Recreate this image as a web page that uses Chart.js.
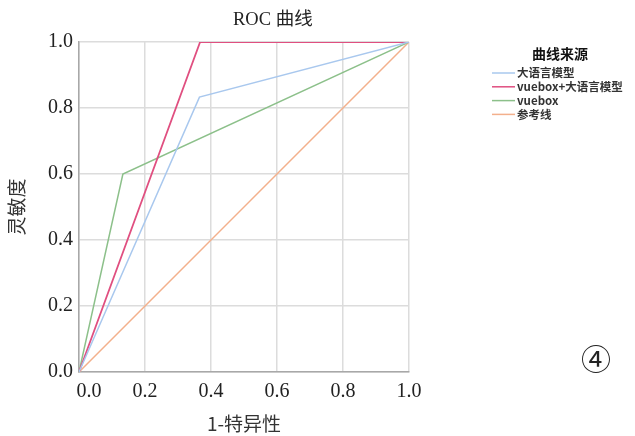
<!DOCTYPE html>
<html>
<head>
<meta charset="utf-8">
<script src="https://cdn.jsdelivr.net/npm/chart.js@4/dist/chart.umd.min.js"></script>
<style>
  html, body { margin: 0; padding: 0; background: #fff; }
  #wrap { position: relative; width: 635px; height: 436px; }
  #mark { position: absolute; left: 581px; top: 335px; font: 30px "Noto Sans CJK SC", serif; color: #222; }
</style>
</head>
<body>
<div id="wrap">
  <canvas id="chart" width="635" height="436"></canvas>
  <div id="mark">④</div>
</div>
<script>
// ROC points
var seriesNames = ["大语言模型", "vuebox+大语言模型", "vuebox", "参考线"];
var llmX = [0, 0.365, 1];
var llmY = [0, 0.833, 1];
var comboX = [0, 0.367, 1];
var comboY = [0, 1, 1];
var vueboxX = [0, 0.133, 1];
var vueboxY = [0, 0.6, 1];
var refX = [0, 1];
var refY = [0, 1];
var tickValues = [0, 0.2, 0.4, 0.6, 0.8, 1.0];
var colors = ["#a9c8ee", "#e04f80", "#8cc08a", "#f3b08c"];

function pts(xs, ys) {
    return xs.map(function (x, i) { return {x: x, y: ys[i]}; });
}

var serif = '"Liberation Serif", "Noto Sans CJK SC", serif';
var cjk = '"Noto Sans CJK SC", sans-serif';

var sideBits = {
    id: 'sideBits',
    afterDraw: function (chart) {
        var c = chart.ctx;
        c.save();
        // title
        c.fillStyle = '#222';
        c.textAlign = 'left';
        c.textBaseline = 'middle';
        c.font = '18.5px ' + serif;
        c.fillText('ROC 曲线', 233, 20);
        // legend
        c.textAlign = 'center';
        c.font = 'bold 14px ' + cjk;
        c.fillStyle = '#111';
        c.fillText('曲线来源', 560, 54);
        c.textAlign = 'left';
        c.font = '600 11.5px ' + cjk;
        chart.data.datasets.forEach(function (ds, i) {
            var y = 73 + i * 13.8;
            c.strokeStyle = ds.borderColor;
            c.lineWidth = 1.5;
            c.beginPath();
            c.moveTo(492, y);
            c.lineTo(515, y);
            c.stroke();
            c.fillStyle = '#333';
            c.fillText(ds.label, 517, y);
        });
        c.restore();
    }
};

var ctx = document.getElementById('chart').getContext('2d');
new Chart(ctx, {
    type: 'scatter',
    data: {
        datasets: [
            {label: seriesNames[0], data: pts(llmX, llmY), borderColor: colors[0], borderWidth: 1.5},
            {label: seriesNames[1], data: pts(comboX, comboY), borderColor: colors[1], borderWidth: 1.8},
            {label: seriesNames[2], data: pts(vueboxX, vueboxY), borderColor: colors[2], borderWidth: 1.5},
            {label: seriesNames[3], data: pts(refX, refY), borderColor: colors[3], borderWidth: 1.5}
        ].map(function (d) {
            d.showLine = true;
            d.pointRadius = 0;
            d.fill = false;
            d.tension = 0;
            return d;
        })
    },
    options: {
        responsive: false,
        animation: false,
        layout: {padding: {top: 42, right: 226, left: 0, bottom: 0}},
        plugins: {legend: {display: false}, title: {display: false}, tooltip: {enabled: false}},
        scales: {
            x: {
                type: 'linear', min: 0, max: 1,
                afterBuildTicks: function (s) { s.ticks = tickValues.map(function (v) { return {value: v}; }); },
                afterFit: function (s) { s.height = 64; },
                grid: {color: '#dcdcdc', lineWidth: 1.5, drawTicks: false},
                border: {color: '#a8a8a8', width: 1.5},
                ticks: {padding: 8, color: '#222', font: {family: serif, size: 20},
                    // first label sits a little right of the corner in the original
                    callback: function (v) { return v === 0 ? '    0.0' : v.toFixed(1); }},
                title: {display: true, text: '1-特异性', color: '#333', font: {family: cjk, size: 19}, padding: {top: 0, bottom: 1}}
            },
            y: {
                type: 'linear', min: 0, max: 1,
                afterBuildTicks: function (s) { s.ticks = tickValues.map(function (v) { return {value: v}; }); },
                afterFit: function (s) { s.width = 79; },
                grid: {color: '#dcdcdc', lineWidth: 1.5, drawTicks: false},
                border: {color: '#a8a8a8', width: 1.5},
                ticks: {padding: 6, color: '#222', font: {family: serif, size: 20},
                    callback: function (v) { return v.toFixed(1); }},
                title: {display: true, text: '灵敏度', color: '#333', font: {family: cjk, size: 19}, padding: {top: 5, bottom: 0}}
            }
        }
    },
    plugins: [sideBits]
});
</script>
</body>
</html>
